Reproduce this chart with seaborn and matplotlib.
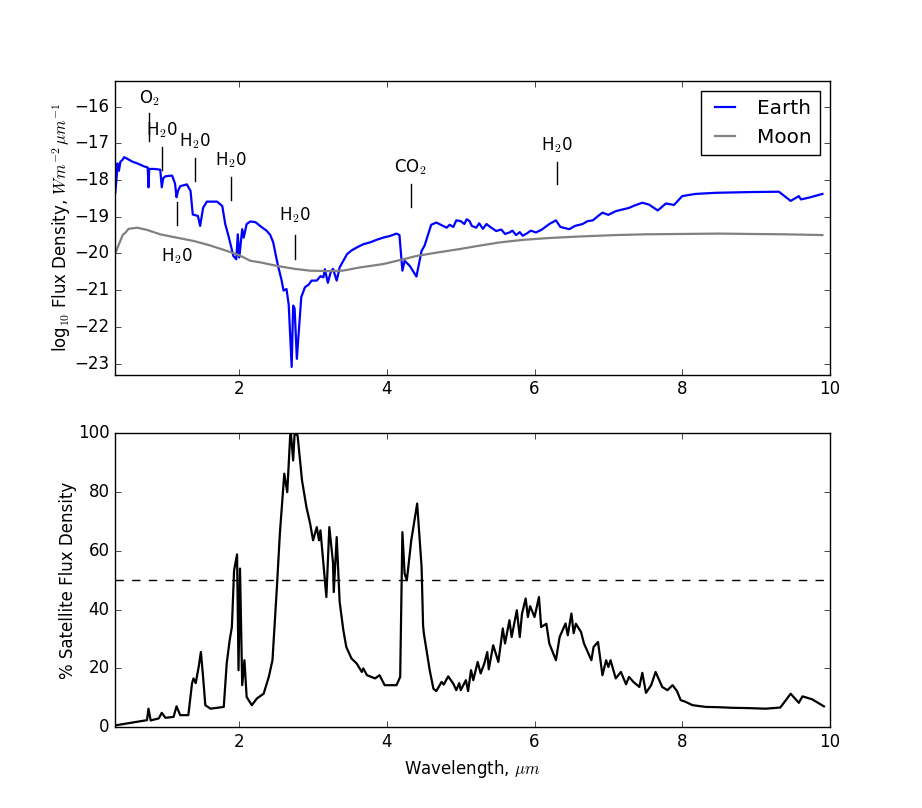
import matplotlib
matplotlib.use("Agg")
import matplotlib.pyplot as plt
import seaborn as sns
import numpy as np
import pandas as pd

# ---------------- data ----------------
earth_wl = [0.32, 0.34, 0.35, 0.37, 0.39, 0.42, 0.44, 0.48, 0.55, 0.62, 0.71, 0.76, 0.77, 0.78,
            0.85, 0.93, 0.95, 0.97, 1.0, 1.09, 1.13, 1.15, 1.17, 1.2, 1.29, 1.34, 1.37, 1.44,
            1.47, 1.51, 1.56, 1.70, 1.77, 1.81, 1.86, 1.92, 1.96, 1.98, 2.0, 2.04, 2.06, 2.1,
            2.15, 2.22, 2.3, 2.37, 2.42, 2.46, 2.5, 2.53, 2.57, 2.6, 2.64, 2.67, 2.71, 2.73,
            2.75, 2.78, 2.84, 2.89, 2.94, 2.98, 3.05, 3.1, 3.14, 3.16, 3.2, 3.24, 3.27, 3.32,
            3.36, 3.46, 3.52, 3.59, 3.68, 3.77, 3.86, 3.95, 4.05, 4.13, 4.17, 4.21, 4.24, 4.31,
            4.40, 4.47, 4.51, 4.6, 4.67, 4.81, 4.85, 4.9, 4.94, 5.0, 5.05, 5.08, 5.12, 5.15,
            5.21, 5.25, 5.3, 5.35, 5.4, 5.48, 5.55, 5.6, 5.66, 5.7, 5.75, 5.8, 5.84, 5.9, 5.95,
            6.02, 6.1, 6.2, 6.29, 6.35, 6.47, 6.55, 6.65, 6.72, 6.79, 6.85, 6.92, 7.0, 7.1,
            7.2, 7.28, 7.35, 7.46, 7.55, 7.67, 7.78, 7.89, 8.0, 8.18, 8.45, 8.91, 9.31, 9.47,
            9.58, 9.61, 9.72, 9.9]
earth_flux = [-18.35, -17.9, -17.55, -17.75, -17.5, -17.45, -17.38, -17.42, -17.5, -17.55,
              -17.63, -17.66, -18.2, -17.7, -17.7, -17.72, -18.2, -17.95, -17.9, -17.88, -18.1,
              -18.47, -18.3, -18.17, -18.12, -18.3, -18.94, -18.98, -19.25, -18.76, -18.59,
              -18.59, -18.71, -19.2, -19.57, -20.07, -20.16, -19.48, -20.11, -19.34, -19.57,
              -19.2, -19.13, -19.15, -19.28, -19.38, -19.5, -19.7, -20.1, -20.38, -20.7,
              -21.01, -20.97, -21.4, -23.09, -21.42, -21.5, -22.87, -21.19, -20.92, -20.85,
              -20.74, -20.74, -20.62, -20.65, -20.43, -20.8, -20.5, -20.42, -20.74, -20.38,
              -20.02, -19.92, -19.84, -19.75, -19.7, -19.63, -19.57, -19.52, -19.46, -19.5,
              -20.47, -20.2, -20.34, -20.63, -19.93, -19.79, -19.22, -19.16, -19.3, -19.22,
              -19.28, -19.1, -19.12, -19.2, -19.07, -19.12, -19.25, -19.3, -19.18, -19.33,
              -19.2, -19.28, -19.39, -19.35, -19.47, -19.43, -19.38, -19.5, -19.42, -19.52,
              -19.45, -19.38, -19.43, -19.35, -19.2, -19.1, -19.28, -19.34, -19.25, -19.2,
              -19.12, -19.1, -19.0, -18.89, -18.95, -18.85, -18.8, -18.76, -18.7, -18.62,
              -18.67, -18.83, -18.64, -18.68, -18.44, -18.38, -18.35, -18.33, -18.32, -18.57,
              -18.44, -18.53, -18.48, -18.38]

moon_wl = [0.32, 0.36, 0.42, 0.46, 0.5, 0.62, 0.75, 0.93, 1.1, 1.38, 1.6, 1.83, 2.0, 2.15,
           2.3, 2.51, 2.75, 2.96, 3.18, 3.4, 3.64, 3.95, 4.2, 4.4, 4.7, 4.99, 5.25, 5.53,
           5.85, 6.2, 6.6, 7.1, 7.5, 8.0, 8.5, 8.91, 9.4, 9.9]
moon_flux = [-20.0, -19.8, -19.5, -19.43, -19.33, -19.3, -19.36, -19.48, -19.55, -19.66,
             -19.78, -19.93, -20.05, -20.2, -20.25, -20.34, -20.42, -20.47, -20.48, -20.47,
             -20.38, -20.29, -20.17, -20.07, -19.97, -19.88, -19.79, -19.7, -19.63, -19.58,
             -19.54, -19.5, -19.48, -19.47, -19.46, -19.47, -19.48, -19.5]

ratio_wl = [0.32, 0.34, 0.53, 0.75, 0.77, 0.80, 0.91, 0.95, 1.0, 1.11, 1.15, 1.2, 1.31, 1.36,
            1.38, 1.41, 1.45, 1.48, 1.51, 1.54, 1.61, 1.79, 1.83, 1.87, 1.90, 1.93, 1.97, 1.99,
            2.01, 2.04, 2.07, 2.10, 2.17, 2.24, 2.33, 2.40, 2.45, 2.51, 2.55, 2.61, 2.65, 2.69,
            2.70, 2.73, 2.75, 2.79, 2.85, 2.91, 2.96, 3.0, 3.05, 3.08, 3.10, 3.14, 3.18, 3.22,
            3.27, 3.28, 3.32, 3.36, 3.41, 3.45, 3.52, 3.59, 3.66, 3.68, 3.73, 3.84, 3.90, 3.97,
            4.13, 4.18, 4.21, 4.24, 4.27, 4.33, 4.41, 4.47, 4.49, 4.5, 4.58, 4.63, 4.67, 4.74,
            4.77, 4.83, 4.90, 4.94, 4.98, 5.0, 5.07, 5.1, 5.14, 5.17, 5.23, 5.27, 5.32, 5.36,
            5.38, 5.44, 5.51, 5.57, 5.60, 5.66, 5.69, 5.76, 5.80, 5.83, 5.88, 5.91, 5.94, 6.0,
            6.06, 6.09, 6.16, 6.20, 6.29, 6.34, 6.42, 6.45, 6.50, 6.53, 6.56, 6.63, 6.67, 6.77,
            6.80, 6.86, 6.92, 6.97, 7.0, 7.03, 7.10, 7.17, 7.24, 7.28, 7.34, 7.42, 7.46, 7.51,
            7.58, 7.64, 7.73, 7.80, 7.87, 7.93, 7.98, 8.04, 8.14, 8.32, 8.50, 8.68, 8.90, 9.13,
            9.33, 9.47, 9.58, 9.63, 9.76, 9.92]
ratio_pct = [0.5, 0.7, 1.5, 2.4, 6.3, 2.3, 3.0, 4.9, 3.2, 3.5, 7.1, 4.1, 4.1, 14.9, 16.6, 15.0,
             20.5, 25.6, 17.1, 7.5, 6.3, 6.9, 21.7, 29.6, 34.1, 53.4, 58.8, 19.4, 54.0, 14.3,
             22.8, 10.3, 7.5, 9.8, 11.4, 17.1, 22.8, 47.7, 65.9, 86.3, 80.0, 99.3, 100.0, 90.8,
             100.0, 99.3, 84.0, 74.9, 69.3, 63.6, 68.1, 63.6, 67.0, 55.7, 44.3, 68.1, 56.0,
             46.0, 64.7, 42.6, 33.0, 27.3, 23.4, 21.7, 18.8, 20.0, 17.7, 16.6, 17.7, 14.3,
             14.3, 17.1, 66.4, 52.3, 50.0, 63.6, 76.1, 54.5, 34.7, 32.0, 19.4, 13.1, 12.3, 15.4,
             14.5, 17.3, 14.8, 12.6, 15.0, 12.6, 16.0, 12.3, 19.4, 16.0, 22.2, 18.3, 21.7, 25.6,
             19.7, 27.9, 22.2, 33.6, 28.5, 36.4, 30.7, 39.8, 30.7, 38.6, 43.8, 37.5, 41.2, 37.5,
             44.3, 34.1, 35.2, 28.5, 22.8, 30.7, 35.3, 31.3, 38.7, 32.0, 35.2, 32.4, 28.5, 22.8,
             27.3, 29.0, 17.7, 22.8, 20.5, 22.8, 16.6, 18.8, 14.6, 17.1, 15.4, 13.7, 18.5, 11.7,
             14.3, 18.8, 13.7, 12.6, 14.3, 12.3, 9.2, 8.7, 7.5, 6.9, 6.8, 6.6, 6.5, 6.3,
             6.7, 11.4, 8.3, 10.5, 9.5, 7.1]

threshold_pct = 50

# annotations: label, wavelength, text y, line top, line bottom, text vertical alignment
ann_labels = [r"O$_2$", r"H$_2$0", r"H$_2$0", r"H$_2$0", r"H$_2$0", r"H$_2$0", r"CO$_2$", r"H$_2$0"]
ann_wl = [0.78, 0.955, 1.40, 1.89, 1.16, 2.75, 4.32, 6.30]
ann_text_y = [-16.05, -16.92, -17.22, -17.72, -19.79, -19.22, -17.92, -17.31]
ann_line_top = [-16.19, -17.11, -17.40, -17.92, -18.59, -19.50, -18.10, -17.51]
ann_line_bot = [-16.95, -17.73, -18.03, -18.55, -19.22, -20.15, -18.74, -18.12]
ann_va = ["bottom", "bottom", "bottom", "bottom", "top", "bottom", "bottom", "bottom"]

xticks = [2, 4, 6, 8, 10]
top_yticks = [-16, -17, -18, -19, -20, -21, -22, -23]
bot_yticks = [0, 20, 40, 60, 80, 100]

# ---------------- plot ----------------
plt.style.use("classic")
plt.rcParams["figure.facecolor"] = "white"
plt.rcParams["savefig.facecolor"] = "white"
plt.rcParams["mathtext.fontset"] = "cm"
plt.rcParams["font.family"] = ["DejaVu Sans"]

fig, (ax1, ax2) = plt.subplots(2, 1, figsize=(9.22, 8.08), dpi=100)
fig.subplots_adjust(left=0.125, right=0.9, bottom=0.1, top=0.9, hspace=0.2)

earth_df = pd.DataFrame({"wl": earth_wl, "flux": earth_flux})
moon_df = pd.DataFrame({"wl": moon_wl, "flux": moon_flux})
ratio_df = pd.DataFrame({"wl": ratio_wl, "pct": ratio_pct})

sns.lineplot(data=earth_df, x="wl", y="flux", ax=ax1, color="b", lw=1.6,
             label="Earth", sort=False, estimator=None)
sns.lineplot(data=moon_df, x="wl", y="flux", ax=ax1, color="gray", lw=1.6,
             label="Moon", sort=False, estimator=None)

for lab, x, ty, yt, yb, va in zip(ann_labels, ann_wl, ann_text_y, ann_line_top, ann_line_bot, ann_va):
    ax1.plot([x, x], [yt, yb], color="k", lw=1.0)
    ax1.text(x, ty, lab, ha="center", va=va, fontsize=12)

ax1.set_xlim(0.32, 10)
ax1.set_ylim(-23.3, -15.3)
ax1.set_xticks(xticks)
ax1.set_yticks(top_yticks)
ax1.set_xlabel("")
ax1.set_ylabel(r"log$_{10}$ Flux Density, $Wm^{-2}\,\mu m^{-1}$", labelpad=1)
leg = ax1.legend(loc="upper right", fontsize=14.4, fancybox=False, handlelength=1.6)
leg.get_frame().set_edgecolor("k")

sns.lineplot(data=ratio_df, x="wl", y="pct", ax=ax2, color="k", lw=1.6,
             sort=False, estimator=None)
ax2.axhline(threshold_pct, color="k", ls="--", lw=1.0)
ax2.set_xlim(0.32, 10)
ax2.set_ylim(0, 100)
ax2.set_xticks(xticks)
ax2.set_yticks(bot_yticks)
ax2.set_xlabel(r"Wavelength, $\mu m$")
ax2.set_ylabel("% Satellite Flux Density", labelpad=1)

fig.savefig("out.png", dpi=100)
